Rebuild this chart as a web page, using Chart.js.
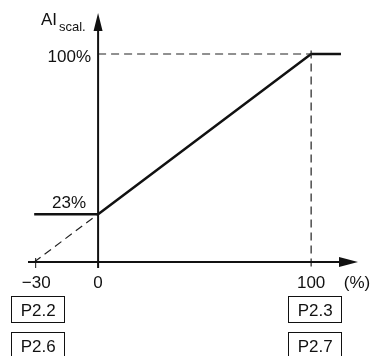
<!DOCTYPE html>
<html>
<head>
<meta charset="utf-8">
<script src="https://cdn.jsdelivr.net/npm/chart.js@4/dist/chart.umd.min.js"></script>
<style>
body { margin: 0; background: #fff; }
#wrap { width: 373px; height: 356px; position: relative; }
</style>
</head>
<body>
<div id="wrap"><canvas id="chart"></canvas></div>
<script>
// characteristic: input (%) -> AI scaled (%)
const curveX = [-30, 0, 100, 114];
const curveY = [23, 23, 100, 100];

// dashed helper lines
const extrapX = [-30, 0];
const extrapY = [0, 23];
const topGuideX = [0, 100];
const topGuideY = [100, 100];
const rightGuideX = [100, 100];
const rightGuideY = [-2.2, 104];

const xTicks = [-30, 0, 100];
const xTickLabels = ['\u221230', '0', '100'];
const yMarks = [100, 23];
const yMarkLabels = ['100%', '23%'];
const boxTicks = [-30, 100];
const boxRow1 = ['P2.2', 'P2.3'];
const boxRow2 = ['P2.6', 'P2.7'];

const FONT = '"Liberation Sans", Arial, sans-serif';
const INK = '#111';

function pts(xs, ys) {
    return xs.map((x, i) => ({ x: x, y: ys[i] }));
}

function dashed(xs, ys) {
    return {
        data: pts(xs, ys),
        borderColor: '#222',
        borderWidth: 1.2,
        borderDash: [8, 5],
        pointRadius: 0,
        showLine: true,
        fill: false,
        clip: false
    };
}

const axesPlugin = {
    id: 'axes',
    afterDatasetsDraw(chart) {
        const ctx = chart.ctx;
        const xs = chart.scales.x;
        const ys = chart.scales.y;
        const area = chart.chartArea;
        const x0 = xs.getPixelForValue(0);
        const y0 = ys.getPixelForValue(0);

        ctx.save();
        ctx.strokeStyle = INK;
        ctx.fillStyle = INK;
        ctx.lineWidth = 2;

        // x axis
        ctx.beginPath();
        ctx.moveTo(area.left, y0);
        ctx.lineTo(area.right - 12, y0);
        ctx.stroke();
        ctx.beginPath();
        ctx.moveTo(area.right, y0);
        ctx.lineTo(area.right - 19, y0 - 5);
        ctx.lineTo(area.right - 19, y0 + 5);
        ctx.closePath();
        ctx.fill();

        // y axis
        ctx.beginPath();
        ctx.moveTo(x0, y0 + 6);
        ctx.lineTo(x0, area.top + 12);
        ctx.stroke();
        ctx.beginPath();
        ctx.moveTo(x0, area.top);
        ctx.lineTo(x0 - 4.5, area.top + 18);
        ctx.lineTo(x0 + 4.5, area.top + 18);
        ctx.closePath();
        ctx.fill();

        // small tick at the first x mark
        ctx.lineWidth = 1;
        const xt = xs.getPixelForValue(xTicks[0]) + 1.5;
        ctx.beginPath();
        ctx.moveTo(xt, y0 - 4);
        ctx.lineTo(xt, y0 + 6);
        ctx.stroke();

        // tick labels
        ctx.font = '17px ' + FONT;
        ctx.textAlign = 'center';
        ctx.textBaseline = 'alphabetic';
        xTicks.forEach((v, i) => {
            ctx.fillText(xTickLabels[i], xs.getPixelForValue(v) + (v < 0 ? 2 : 0), y0 + 26);
        });
        ctx.fillText('(%)', area.right - 1, y0 + 26);

        // y marks
        ctx.textAlign = 'right';
        ctx.fillText(yMarkLabels[0], x0 - 7, ys.getPixelForValue(yMarks[0]) + 8);
        ctx.fillText(yMarkLabels[1], x0 - 12, ys.getPixelForValue(yMarks[1]) - 6);

        // axis title
        ctx.textAlign = 'left';
        ctx.font = '17px ' + FONT;
        ctx.fillText('AI', 41, 25);
        ctx.font = '13px ' + FONT;
        ctx.fillText('scal.', 59, 31);

        // parameter boxes
        ctx.font = '17px ' + FONT;
        ctx.textAlign = 'center';
        ctx.lineWidth = 1;
        boxTicks.forEach((v, i) => {
            const cx = xs.getPixelForValue(v) + 3;
            [boxRow1[i], boxRow2[i]].forEach((txt, r) => {
                const top = y0 + 34 + r * 36;
                ctx.strokeRect(Math.round(cx - 26.5) + 0.5, Math.round(top) + 0.5, 53, 26);
                ctx.fillText(txt, cx + 1, top + 20);
            });
        });
        ctx.restore();
    }
};

new Chart(document.getElementById('chart'), {
    type: 'scatter',
    data: {
        datasets: [
            dashed(extrapX, extrapY),
            dashed(topGuideX, topGuideY),
            dashed(rightGuideX, rightGuideY),
            {
                data: pts(curveX, curveY),
                borderColor: INK,
                borderWidth: 2.5,
                pointRadius: 0,
                showLine: true,
                fill: false,
                clip: false
            }
        ]
    },
    options: {
        responsive: true,
        maintainAspectRatio: false,
        animation: false,
        layout: { padding: { left: 28, right: 15, top: 13, bottom: 94 } },
        plugins: { legend: { display: false }, tooltip: { enabled: false } },
        scales: {
            x: { type: 'linear', min: -32.9, max: 122, display: false },
            y: { type: 'linear', min: 0, max: 119.7, display: false }
        }
    },
    plugins: [axesPlugin]
});
</script>
</body>
</html>
